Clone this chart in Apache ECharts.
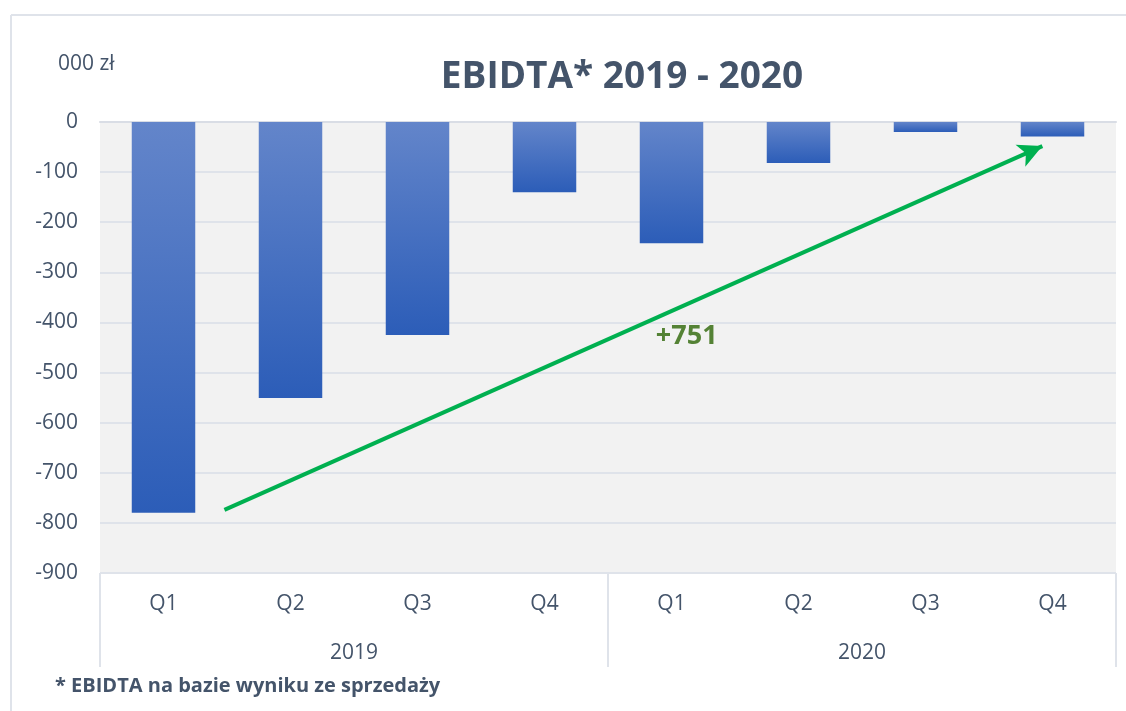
<!DOCTYPE html>
<html>
<head>
<meta charset="utf-8">
<script src="https://cdn.jsdelivr.net/npm/echarts@6/dist/echarts.min.js"></script>
<style>
  html, body { margin: 0; padding: 0; background: #fff; }
  #main { width: 1126px; height: 711px; }
</style>
</head>
<body>
<div id="main"></div>
<script>
// dane
const quarters = ['Q1', 'Q2', 'Q3', 'Q4', 'Q1', 'Q2', 'Q3', 'Q4'];
const years = ['2019', '2020'];
const ebidta = [-780, -551, -425, -140, -242, -82, -20, -29];
const yTicks = [0, -100, -200, -300, -400, -500, -600, -700, -800, -900];
const arrowStart = [0.48, -774];
const arrowEnd = [6.92, -48];
const growthLabel = '+751';
const growthPos = [4.12, -427];

const textColor = '#44546a';
const font = 'Open Sans';

var myChart = echarts.init(document.getElementById('main'));

var option = {
    animation: false,
    backgroundColor: '#fff',
    title: {
        text: 'EBIDTA* 2019 - 2020',
        left: 617,
        top: 54,
        textAlign: 'center',
        textStyle: { fontFamily: font, fontSize: 37, fontWeight: 'bold', color: textColor }
    },
    graphic: [
        { type: 'line', shape: { x1: 11, y1: 15, x2: 1126, y2: 15 }, style: { stroke: '#dfe3ea', lineWidth: 2 } },
        { type: 'line', shape: { x1: 11, y1: 15, x2: 11, y2: 711 }, style: { stroke: '#dfe3ea', lineWidth: 2 } },
        {
            type: 'text', left: 58, top: 54,
            style: { text: '000 zł', fontFamily: font, fontSize: 21, fill: textColor }
        },
        {
            type: 'text', left: 55, top: 676,
            style: { text: '* EBIDTA na bazie wyniku ze sprzedaży', fontFamily: font, fontSize: 20, fontWeight: 'bold', fill: textColor }
        }
    ],
    grid: {
        left: 100, right: 10, top: 122, bottom: 138,
        show: true, backgroundColor: '#f2f2f2', borderWidth: 0
    },
    xAxis: [
        {
            type: 'category',
            data: quarters,
            position: 'bottom',
            axisLine: { show: true, lineStyle: { color: '#d9dde5', width: 2 } },
            axisTick: { show: false },
            axisLabel: { margin: 21, fontFamily: font, fontSize: 21, color: textColor }
        },
        {
            type: 'category',
            data: years,
            position: 'bottom',
            boundaryGap: true,
            axisLine: { show: false },
            axisTick: { show: true, length: 94, lineStyle: { color: '#dfe3ea', width: 2 } },
            axisLabel: { margin: 70, fontFamily: font, fontSize: 21, color: textColor }
        },
        {
            type: 'value',
            min: -0.5,
            max: 7.5,
            show: false
        }
    ],
    yAxis: {
        type: 'value',
        min: yTicks[yTicks.length - 1],
        max: yTicks[0],
        interval: 100,
        axisLine: { show: false },
        axisTick: { show: false },
        splitLine: { lineStyle: { color: '#dfe3ea', width: 2 } },
        axisLabel: { margin: 22, fontFamily: font, fontSize: 21, color: textColor }
    },
    series: [
        {
            name: 'EBIDTA',
            type: 'bar',
            xAxisIndex: 0,
            data: ebidta,
            barWidth: '50%',
            itemStyle: {
                color: new echarts.graphic.LinearGradient(0, 0, 0, 1, [
                    { offset: 0, color: '#6385ca' },
                    { offset: 1, color: '#2c5db8' }
                ])
            }
        },
        {
            name: 'trend',
            type: 'line',
            xAxisIndex: 2,
            data: [arrowStart, arrowEnd],
            showSymbol: false,
            lineStyle: { opacity: 0 },
            silent: true,
            markLine: {
                silent: true,
                symbol: ['none', 'arrow'],
                symbolSize: [18, 24],
                lineStyle: { color: '#00b050', width: 4, type: 'solid' },
                label: { show: false },
                data: [[{ coord: arrowStart }, { coord: arrowEnd }]]
            },
            markPoint: {
                silent: true,
                symbolSize: 0,
                label: {
                    show: true,
                    formatter: growthLabel,
                    fontFamily: font,
                    fontSize: 27,
                    fontWeight: 'bold',
                    color: '#548235'
                },
                data: [{ coord: growthPos }]
            }
        }
    ]
};

myChart.setOption(option);
</script>
</body>
</html>
